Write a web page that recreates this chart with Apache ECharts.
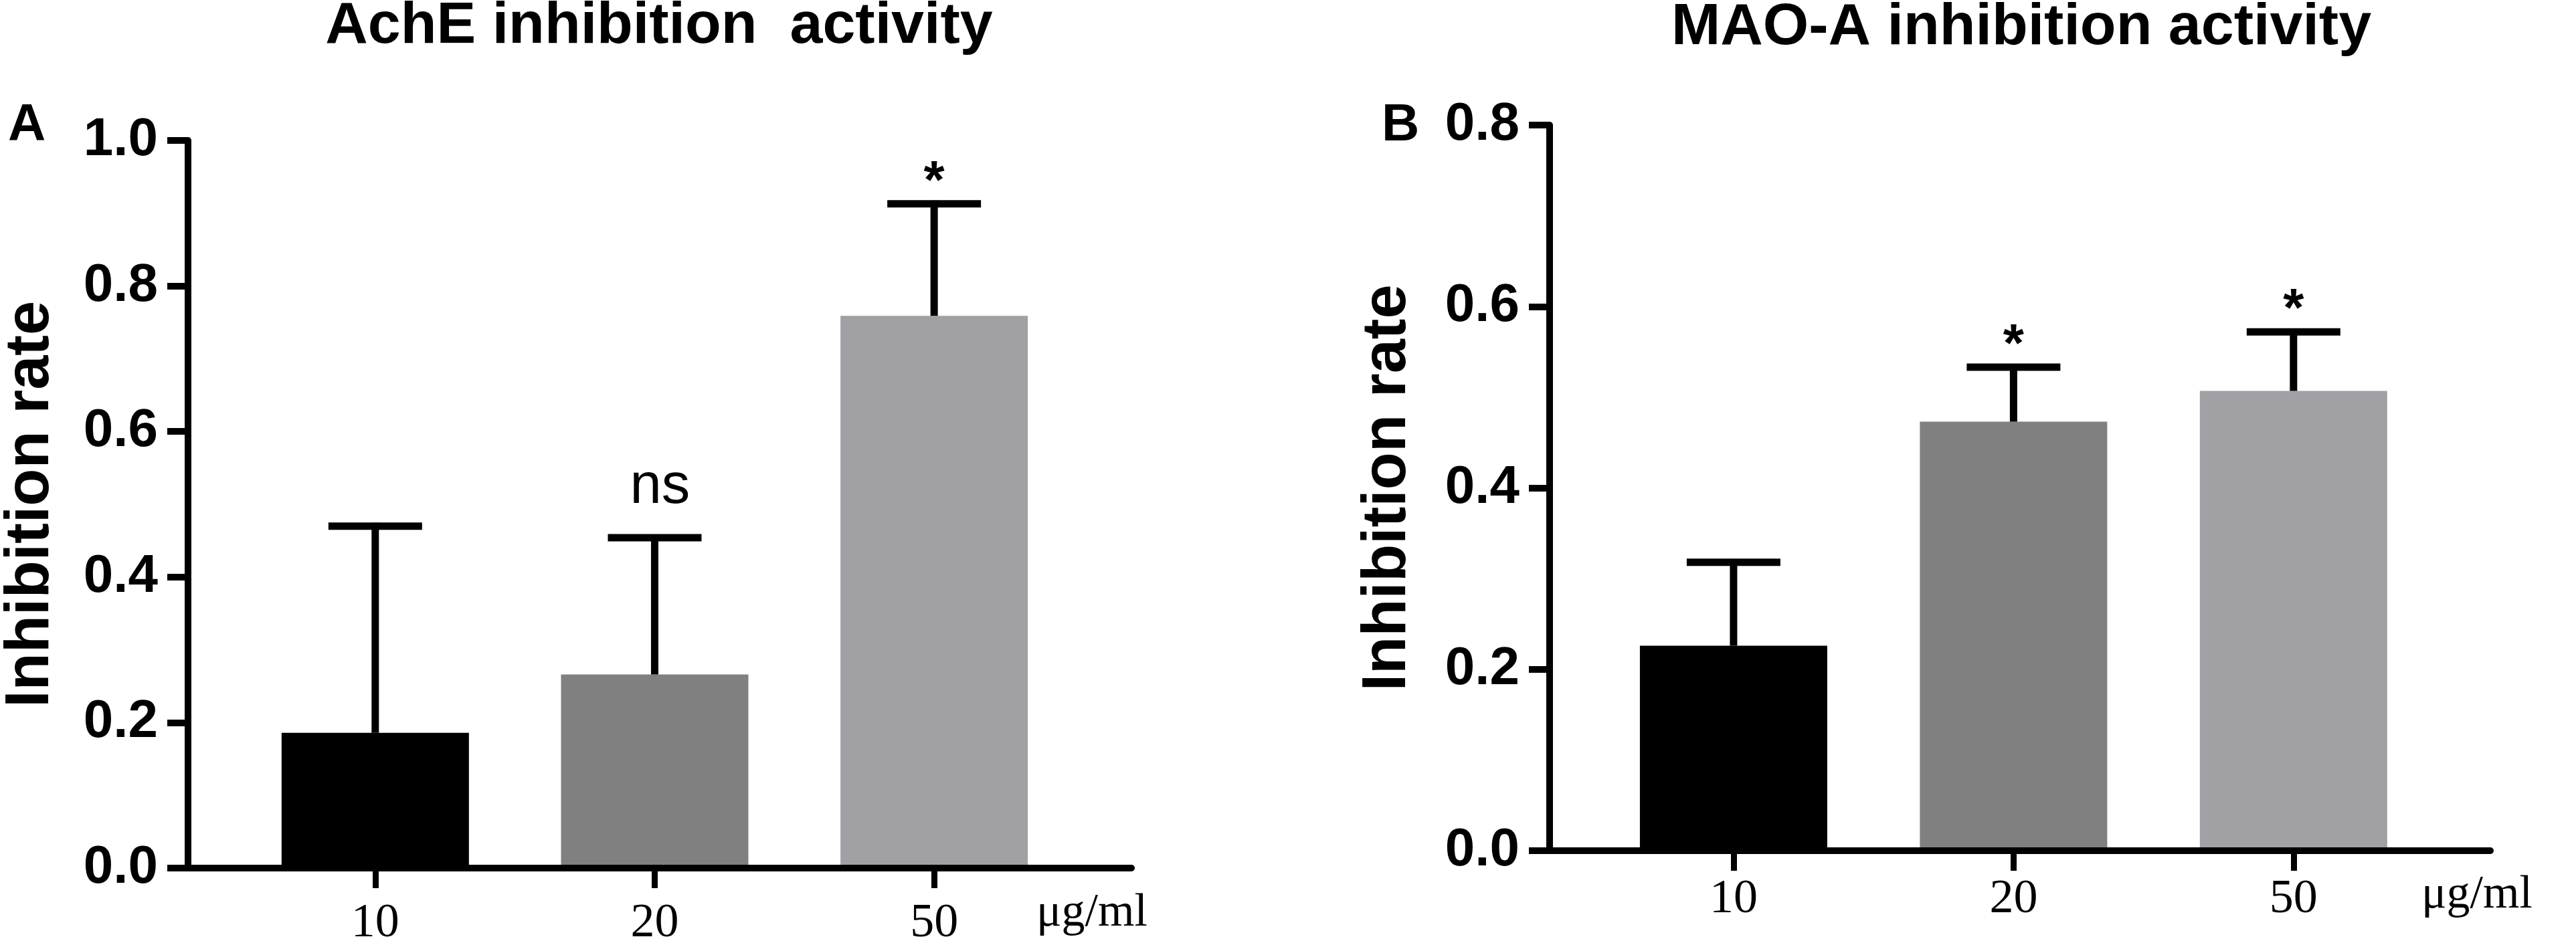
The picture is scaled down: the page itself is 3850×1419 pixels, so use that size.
<!DOCTYPE html>
<html>
<head>
<meta charset="utf-8">
<style>
  html, body { margin: 0; padding: 0; background: #fff; }
  #main { width: 3850px; height: 1419px; }
</style>
<script src="https://cdn.jsdelivr.net/npm/echarts@6/dist/echarts.min.js"></script>
</head>
<body>
<div id="main"></div>
<script>
// doses (x categories)
var categories = ['10', '20', '50'];
// panel A: AchE
var achMean = [0.186, 0.266, 0.759];
var achSd = [0.284, 0.188, 0.154];
var achSig = ['', 'ns', '*'];
// panel B: MAO-A
var maoMean = [0.226, 0.473, 0.507];
var maoSd = [0.092, 0.060, 0.065];
var maoSig = ['', '*', '*'];

var barColors = ['#000000', '#808080', '#a1a0a5'];
var SANS = '"Liberation Sans", Arial, sans-serif';
var SERIF = '"Liberation Serif", "Times New Roman", serif';
var ticks = categories.map(function (c, i) { return i + 1; });

var myChart = echarts.init(document.getElementById('main'));

function barData(means) {
  return means.map(function (v, i) {
    return { value: [i + 1, v], itemStyle: { color: barColors[i] } };
  });
}
function errData(means, sds) {
  return means.map(function (v, i) { return [i + 1, v, sds[i]]; });
}
function errRender(sigs) {
  return function (params, api) {
    var x = api.value(0), m = api.value(1), sd = api.value(2);
    var base = api.coord([x, m]);
    var top = api.coord([x, m + sd]);
    var sig = sigs[params.dataIndex];
    var kids = [
      { type: 'line', shape: { x1: base[0], y1: base[1], x2: top[0], y2: top[1] - 5 },
        style: { stroke: '#000', lineWidth: 11 } },
      { type: 'line', shape: { x1: top[0] - 70, y1: top[1], x2: top[0] + 70, y2: top[1] },
        style: { stroke: '#000', lineWidth: 11 } }
    ];
    if (sig === '*') {
      kids.push({ type: 'text', x: top[0], y: top[1] - 31,
        style: { text: sig, font: 'bold 80px ' + SANS, fill: '#000', align: 'center', verticalAlign: 'middle' } });
    } else if (sig) {
      kids.push({ type: 'text', x: top[0] + 8, y: top[1] - 75,
        style: { text: sig, font: '85px ' + SANS, fill: '#000', align: 'center', verticalAlign: 'middle' } });
    }
    return { type: 'group', children: kids };
  };
}
function xAxisOpt(gridIndex, min, max, margin) {
  return {
    type: 'value', gridIndex: gridIndex, min: min, max: max, z: 5,
    splitLine: { show: false },
    axisLine: { lineStyle: { color: '#000', width: 10 } },
    axisTick: { customValues: ticks, length: 30, lineStyle: { color: '#000', width: 9 } },
    axisLabel: {
      customValues: ticks, margin: margin, color: '#000',
      fontFamily: SERIF, fontSize: 72,
      formatter: function (v) { return categories[Math.round(v) - 1]; }
    }
  };
}
function yAxisOpt(gridIndex, max, nameGap) {
  return {
    type: 'value', gridIndex: gridIndex, min: 0, max: max, interval: 0.2,
    name: 'Inhibition rate', nameLocation: 'middle', nameGap: nameGap,
    nameTextStyle: { color: '#000', fontFamily: SANS, fontWeight: 'bold', fontSize: 92 },
    splitLine: { show: false },
    axisLine: { show: true, lineStyle: { color: '#000', width: 10 } },
    axisTick: { show: true, length: 31, lineStyle: { color: '#000', width: 10 } },
    axisLabel: {
      margin: 45, color: '#000', fontFamily: SANS, fontWeight: 'bold', fontSize: 80,
      formatter: function (v) { return v.toFixed(1); }
    }
  };
}

var option = {
  backgroundColor: '#fff',
  animation: false,
  grid: [
    { left: 280, right: 2159, top: 210, bottom: 121 },
    { left: 2316, right: 128, top: 187, bottom: 147 }
  ],
  xAxis: [xAxisOpt(0, 0.33, 3.706, 47), xAxisOpt(1, 0.343, 3.703, 37)],
  yAxis: [yAxisOpt(0, 1.0, 188), yAxisOpt(1, 0.8, 195)],
  graphic: [
    { type: 'text', x: 985, y: 40, style: { text: 'AchE inhibition  activity', font: 'bold 88px ' + SANS, fill: '#000', align: 'center', verticalAlign: 'middle' } },
    { type: 'text', x: 3021, y: 42, style: { text: 'MAO-A inhibition activity', font: 'bold 88px ' + SANS, fill: '#000', align: 'center', verticalAlign: 'middle' } },
    { type: 'text', x: 12, y: 188, style: { text: 'A', font: 'bold 78px ' + SANS, fill: '#000', align: 'left', verticalAlign: 'middle' } },
    { type: 'text', x: 2065, y: 188, style: { text: 'B', font: 'bold 78px ' + SANS, fill: '#000', align: 'left', verticalAlign: 'middle' } },
    { type: 'text', x: 1549, y: 1366, style: { text: 'μg/ml', font: '70px ' + SERIF, fill: '#000', align: 'left', verticalAlign: 'middle' } },
    { type: 'text', x: 3619, y: 1339, style: { text: 'μg/ml', font: '70px ' + SERIF, fill: '#000', align: 'left', verticalAlign: 'middle' } }
  ],
  series: [
    { name: 'AchE', type: 'bar', xAxisIndex: 0, yAxisIndex: 0, barWidth: 280, data: barData(achMean) },
    { name: 'AchE SD', type: 'custom', xAxisIndex: 0, yAxisIndex: 0, z: 4,
      encode: { x: 0, y: 1 }, renderItem: errRender(achSig), data: errData(achMean, achSd) },
    { name: 'MAO-A', type: 'bar', xAxisIndex: 1, yAxisIndex: 1, barWidth: 280, data: barData(maoMean) },
    { name: 'MAO-A SD', type: 'custom', xAxisIndex: 1, yAxisIndex: 1, z: 4,
      encode: { x: 0, y: 1 }, renderItem: errRender(maoSig), data: errData(maoMean, maoSd) }
  ]
};
myChart.setOption(option);
</script>
</body>
</html>
